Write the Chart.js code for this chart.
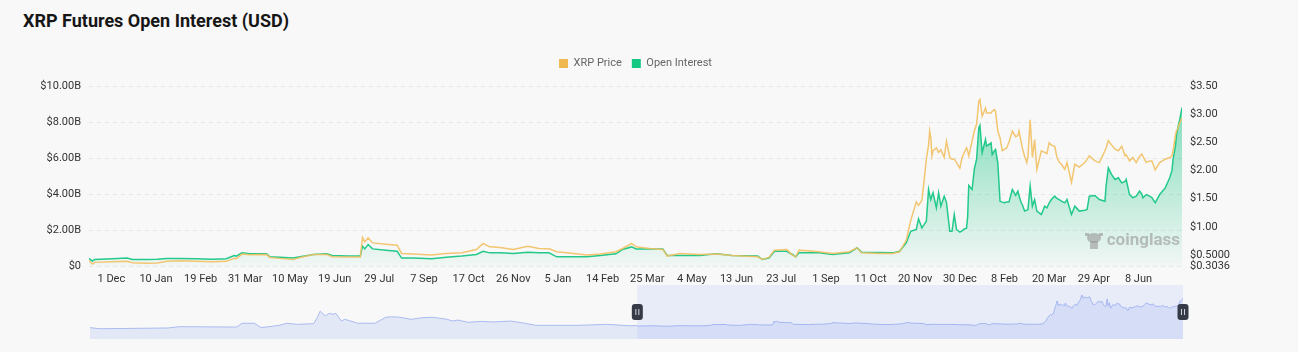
<!DOCTYPE html>
<html>
<head>
<meta charset="utf-8">
<script src="https://cdn.jsdelivr.net/npm/chart.js@4.4.1/dist/chart.umd.min.js"></script>
<style>
  html, body { margin: 0; padding: 0; background: #f8f8f8; }
  body { width: 1298px; height: 352px; position: relative; overflow: hidden; font-family: Roboto, "Noto Sans", sans-serif; }
  #title { position: absolute; left: 23px; top: 10px; font-size: 18px; font-weight: 700; color: #161616; line-height: 22px; }
  #main { position: absolute; left: 0; top: 0; width: 1298px; height: 290px; }
  #nav { position: absolute; left: 0; top: 283px; width: 1298px; height: 62px; }
</style>
</head>
<body>
<div id="title">XRP Futures Open Interest (USD)</div>
<div id="main"><canvas id="mainChart"></canvas></div>
<div id="nav"><canvas id="navChart"></canvas></div>
<script>
// daily samples
const dates = [
  '2022-11-11','2022-11-14','2022-11-16','2022-12-02','2022-12-15','2022-12-20','2023-01-02','2023-01-11','2023-01-20','2023-01-31',
  '2023-02-15','2023-03-02','2023-03-14','2023-03-21','2023-03-23','2023-03-28','2023-04-04','2023-04-19','2023-04-22','2023-05-01',
  '2023-05-13','2023-05-19','2023-05-31','2023-06-12','2023-06-17','2023-06-30','2023-07-12','2023-07-14','2023-07-16','2023-07-19',
  '2023-07-23','2023-08-04','2023-08-14','2023-08-18','2023-08-28','2023-09-14','2023-09-27','2023-10-11','2023-10-24','2023-10-30',
  '2023-11-05','2023-11-14','2023-11-26','2023-12-09','2023-12-19','2023-12-28','2024-01-04','2024-01-13','2024-01-31','2024-02-12',
  '2024-02-26','2024-03-03','2024-03-11','2024-03-15','2024-03-27','2024-04-08','2024-04-12','2024-04-23','2024-05-11','2024-05-26',
  '2024-06-09','2024-07-02','2024-07-06','2024-07-12','2024-07-17','2024-07-28','2024-08-02','2024-08-05','2024-08-08','2024-08-26',
  '2024-09-07','2024-09-22','2024-09-29','2024-10-03','2024-10-19','2024-10-31','2024-11-06','2024-11-12','2024-11-16','2024-11-21',
  '2024-11-23','2024-11-26','2024-11-28','2024-11-30','2024-12-02','2024-12-03','2024-12-04','2024-12-05','2024-12-06','2024-12-09',
  '2024-12-11','2024-12-13','2024-12-16','2024-12-18','2024-12-21','2024-12-23','2024-12-25','2024-12-27','2024-12-30','2025-01-01',
  '2025-01-03','2025-01-05','2025-01-06','2025-01-07','2025-01-10','2025-01-12','2025-01-14','2025-01-16','2025-01-17','2025-01-19',
  '2025-01-22','2025-01-23','2025-01-27','2025-01-28','2025-01-30','2025-01-31','2025-02-02','2025-02-04','2025-02-06','2025-02-08',
  '2025-02-10','2025-02-12','2025-02-15','2025-02-18','2025-02-20','2025-02-21','2025-02-23','2025-02-24','2025-02-26','2025-02-28',
  '2025-03-01','2025-03-03','2025-03-05','2025-03-07','2025-03-09','2025-03-13','2025-03-16','2025-03-18','2025-03-20','2025-03-22',
  '2025-03-25','2025-03-27','2025-03-29','2025-03-31','2025-04-03','2025-04-05','2025-04-09','2025-04-12','2025-04-16','2025-04-21',
  '2025-04-23','2025-04-25','2025-04-30','2025-05-04','2025-05-09','2025-05-10','2025-05-12','2025-05-15','2025-05-18','2025-05-21',
  '2025-05-24','2025-05-27','2025-05-28','2025-05-31','2025-06-03','2025-06-06','2025-06-09','2025-06-11','2025-06-12','2025-06-15',
  '2025-06-18','2025-06-20','2025-06-23','2025-06-27','2025-07-02','2025-07-06','2025-07-08','2025-07-09','2025-07-11','2025-07-12',
  '2025-07-13','2025-07-15','2025-07-17'
];

// open interest, $ billions
const oiValues = [
  0.42,0.27,0.36,0.40,0.44,0.36,0.36,0.38,0.42,0.42,
  0.40,0.38,0.40,0.58,0.55,0.73,0.68,0.68,0.51,0.49,
  0.44,0.51,0.64,0.68,0.58,0.55,0.55,1.10,0.95,1.19,
  0.95,0.88,0.82,0.44,0.44,0.40,0.49,0.55,0.64,0.82,
  0.73,0.73,0.69,0.77,0.73,0.73,0.51,0.51,0.51,0.58,
  0.68,0.92,1.06,0.95,0.95,0.95,0.58,0.58,0.58,0.68,
  0.58,0.55,0.36,0.44,0.82,0.82,0.64,0.51,0.73,0.73,
  0.64,0.73,1.01,0.77,0.75,0.73,0.82,1.29,1.93,2.03,
  2.62,2.12,2.30,2.49,4.25,3.95,3.69,3.90,4.07,3.23,
  4.07,3.32,3.88,3.55,1.93,1.93,2.86,2.03,1.88,1.95,
  2.06,2.10,2.73,4.47,4.25,5.40,5.92,7.68,7.81,6.29,
  7.03,6.66,6.84,6.19,6.40,6.47,5.73,3.60,3.55,3.51,
  3.55,3.55,4.25,3.92,4.16,3.90,3.51,3.40,3.05,3.10,
  3.14,4.44,3.32,3.69,3.05,2.86,3.32,3.23,3.50,3.69,
  3.88,3.75,3.69,3.60,3.51,3.69,2.86,3.32,3.05,3.10,
  3.14,3.88,3.92,3.69,3.60,4.44,5.45,5.08,4.81,4.90,
  4.62,4.70,4.81,3.97,3.79,3.88,4.16,4.00,3.79,3.97,
  3.88,3.80,3.51,3.97,4.34,4.90,5.30,5.92,6.60,7.21,
  7.60,8.14,8.80
];

// XRP price, USD
const priceValues = [
  0.397,0.339,0.368,0.380,0.386,0.362,0.351,0.356,0.386,0.397,
  0.386,0.380,0.386,0.439,0.433,0.515,0.503,0.509,0.456,0.439,
  0.421,0.456,0.509,0.509,0.468,0.462,0.462,0.808,0.732,0.802,
  0.714,0.691,0.673,0.527,0.515,0.497,0.527,0.538,0.597,0.703,
  0.644,0.632,0.597,0.656,0.615,0.609,0.556,0.538,0.497,0.515,
  0.556,0.615,0.703,0.644,0.615,0.597,0.480,0.527,0.509,0.515,
  0.491,0.468,0.421,0.456,0.585,0.597,0.497,0.468,0.585,0.556,
  0.527,0.556,0.626,0.538,0.527,0.527,0.556,0.76,1.11,1.44,
  1.38,1.47,1.82,2.20,2.45,2.70,2.58,2.26,2.35,2.40,
  2.32,2.37,2.23,2.52,2.23,2.20,2.20,2.14,2.04,2.23,
  2.32,2.40,2.35,2.26,2.52,2.70,2.82,3.23,3.26,2.96,
  3.11,3.02,3.02,3.05,3.08,3.05,2.70,2.58,2.35,2.38,
  2.40,2.50,2.70,2.60,2.62,2.70,2.50,2.40,2.25,2.14,
  2.25,2.90,2.23,2.55,2.02,2.35,2.32,2.30,2.49,2.45,
  2.43,2.23,2.15,2.11,2.02,2.14,1.79,2.11,2.06,2.14,
  2.20,2.26,2.17,2.14,2.35,2.40,2.53,2.45,2.38,2.35,
  2.43,2.26,2.28,2.17,2.23,2.14,2.25,2.29,2.25,2.14,
  2.17,2.17,2.01,2.14,2.20,2.23,2.26,2.35,2.61,2.70,
  2.73,2.85,2.93
];

const tickDates = [
  '2022-12-01','2023-01-10','2023-02-19','2023-03-31','2023-05-10','2023-06-19','2023-07-29','2023-09-07',
  '2023-10-17','2023-11-26','2024-01-05','2024-02-14','2024-03-25','2024-05-04','2024-06-13','2024-07-23',
  '2024-09-01','2024-10-11','2024-11-20','2024-12-30','2025-02-08','2025-03-20','2025-04-29','2025-06-08'
];
const tickLabels = [
  '1 Dec','10 Jan','19 Feb','31 Mar','10 May','19 Jun','29 Jul','7 Sep',
  '17 Oct','26 Nov','5 Jan','14 Feb','25 Mar','4 May','13 Jun','23 Jul',
  '1 Sep','11 Oct','20 Nov','30 Dec','8 Feb','20 Mar','29 Apr','8 Jun'
];
const oiTicks = [0, 2, 4, 6, 8, 10];
const priceTicks = [0.3036, 0.5, 1, 1.5, 2, 2.5, 3, 3.5];

// navigator: earlier price history before the selected window
const navDates = [
  '2020-03-04','2020-03-22','2020-07-22','2020-08-11','2020-11-22','2020-12-02','2020-12-24','2021-01-05','2021-02-07','2021-02-20',
  '2021-03-11','2021-04-09','2021-04-15','2021-04-21','2021-04-30','2021-05-07','2021-05-14','2021-05-19','2021-05-29','2021-06-04',
  '2021-06-13','2021-06-27','2021-07-28','2021-08-17','2021-08-27','2021-09-11','2021-10-01','2021-10-21','2021-11-09','2021-12-05',
  '2021-12-14','2021-12-24','2022-01-11','2022-02-06','2022-02-25','2022-03-29','2022-04-23','2022-05-13','2022-07-29','2022-09-18',
  '2022-10-27'
];
const navPrice = [
  0.21,0.11,0.18,0.30,0.27,0.62,0.62,0.21,0.43,0.62,
  0.52,0.58,1.08,1.76,1.30,1.55,1.46,1.55,0.83,0.99,
  0.86,0.62,0.62,1.18,1.23,1.18,0.99,1.14,1.18,0.99,
  0.83,0.92,0.71,0.80,0.74,0.83,0.62,0.43,0.43,0.52,
  0.39
];

const legendColors = ['#f0b94f', '#16c784'];
const day = s => Date.parse(s) / 86400000;
const font = 'Roboto, "Noto Sans", sans-serif';

Chart.defaults.font.family = font;
Chart.defaults.font.size = 11;
Chart.defaults.animation = false;

const legendGap = {
  id: 'legendGap',
  beforeInit(chart) {
    const fit = chart.legend.fit;
    chart.legend.fit = function () {
      fit.bind(chart.legend)();
      this.height = 38;
    };
  }
};

const watermark = {
  id: 'watermark',
  afterDatasetsDraw(chart) {
    const { ctx, chartArea } = chart;
    const x = chartArea.right - 2, y = chartArea.bottom - 25;
    ctx.save();
    ctx.fillStyle = 'rgba(150,150,150,0.6)';
    ctx.font = 'bold 17px ' + font;
    ctx.textAlign = 'right';
    ctx.textBaseline = 'middle';
    ctx.fillText('coinglass', x, y);
    // little mascot
    const ix = x - 86, iy = y;
    ctx.beginPath();
    ctx.ellipse(ix, iy - 3, 7, 5, 0, 0, Math.PI * 2);
    ctx.fill();
    ctx.fillRect(ix - 4, iy, 8, 8);
    ctx.fillRect(ix - 9, iy - 8, 4, 3);
    ctx.fillRect(ix + 5, iy - 8, 4, 3);
    ctx.restore();
  }
};

new Chart(document.getElementById('mainChart'), {
  type: 'line',
  data: {
    datasets: [{
      label: 'XRP Price',
      data: dates.map((d, i) => ({ x: day(d), y: priceValues[i] })),
      yAxisID: 'y1',
      borderColor: 'rgba(242,192,98,0.9)',
      backgroundColor: legendColors[0],
      borderWidth: 1.5,
      pointRadius: 0,
      fill: false,
      tension: 0
    }, {
      label: 'Open Interest',
      data: dates.map((d, i) => ({ x: day(d), y: oiValues[i] })),
      yAxisID: 'y',
      borderColor: '#22c98a',
      backgroundColor: (ctx) => {
        const a = ctx.chart.chartArea;
        if (!a) return 'rgba(28,199,135,0.2)';
        const g = ctx.chart.ctx.createLinearGradient(0, a.top, 0, a.bottom);
        g.addColorStop(0, 'rgba(28,199,135,0.6)');
        g.addColorStop(1, 'rgba(28,199,135,0.03)');
        return g;
      },
      borderWidth: 1.5,
      pointRadius: 0,
      fill: 'origin',
      tension: 0
    }]
  },
  options: {
    responsive: true,
    maintainAspectRatio: false,
    layout: { padding: { top: 48, left: 0, right: 0, bottom: 0 } },
    plugins: {
      legend: {
        position: 'top',
        fullSize: false,
        labels: {
          boxWidth: 9,
          boxHeight: 9,
          padding: 10,
          color: '#666',
          font: { size: 11 },
          generateLabels: (chart) => chart.data.datasets.map((ds, i) => ({
            text: ds.label,
            fillStyle: legendColors[i],
            strokeStyle: legendColors[i],
            lineWidth: 0,
            hidden: false,
            datasetIndex: i,
            fontColor: '#666'
          }))
        }
      },
      tooltip: { enabled: false }
    },
    scales: {
      x: {
        type: 'linear',
        min: day(dates[0]),
        max: day(dates[dates.length - 1]),
        afterBuildTicks: (s) => { s.ticks = tickDates.map(d => ({ value: day(d) })); },
        afterFit: (s) => { s.height = 24; },
        grid: { display: false, drawTicks: false },
        border: { display: false },
        ticks: {
          autoSkip: false,
          maxRotation: 0,
          padding: 7,
          color: '#333',
          callback: (v, i) => tickLabels[i]
        }
      },
      y: {
        position: 'left',
        min: 0,
        max: 10,
        afterBuildTicks: (s) => { s.ticks = oiTicks.map(v => ({ value: v })); },
        afterFit: (s) => { s.width = 89; },
        border: { display: false, dash: [4, 4] },
        grid: { color: '#e6e6e6', drawTicks: false },
        ticks: {
          padding: 8,
          color: '#333',
          callback: (v) => v === 0 ? '$0' : '$' + v.toFixed(2) + 'B'
        }
      },
      y1: {
        position: 'right',
        min: 0.3036,
        max: 3.5,
        afterBuildTicks: (s) => { s.ticks = priceTicks.map(v => ({ value: v })); },
        afterFit: (s) => { s.width = 116; },
        border: { display: false },
        grid: { display: false, drawTicks: false },
        ticks: {
          padding: 8,
          color: '#333',
          callback: (v) => '$' + (v < 1 ? v.toFixed(4) : v.toFixed(2))
        }
      }
    }
  },
  plugins: [legendGap, watermark]
});

const navSelect = {
  id: 'navSelect',
  afterDatasetsDraw(chart) {
    const { ctx, chartArea, scales } = chart;
    const x0 = scales.x.getPixelForValue(day(dates[0]));
    const x1 = scales.x.getPixelForValue(day(dates[dates.length - 1]));
    ctx.save();
    ctx.fillStyle = 'rgba(120,150,248,0.13)';
    ctx.fillRect(x0, chartArea.top, x1 - x0, chartArea.bottom - chartArea.top);
    const cy = (chartArea.top + chartArea.bottom) / 2;
    [x0, x1].forEach(hx => {
      ctx.fillStyle = '#363b47';
      ctx.beginPath();
      ctx.roundRect(hx - 5.5, cy - 8, 11, 16, 3);
      ctx.fill();
      ctx.strokeStyle = '#d0d4de';
      ctx.lineWidth = 1;
      ctx.beginPath();
      ctx.moveTo(hx - 1.5, cy - 3); ctx.lineTo(hx - 1.5, cy + 3);
      ctx.moveTo(hx + 1.5, cy - 3); ctx.lineTo(hx + 1.5, cy + 3);
      ctx.stroke();
    });
    ctx.restore();
  }
};

const navAll = navDates.concat(dates);
const navVals = navPrice.concat(priceValues);

new Chart(document.getElementById('navChart'), {
  type: 'line',
  data: {
    datasets: [{
      data: navAll.map((d, i) => ({ x: day(d), y: navVals[i] })),
      borderColor: '#a9bbf0',
      backgroundColor: 'rgba(120,150,235,0.165)',
      borderWidth: 1,
      pointRadius: 0,
      fill: 'start',
      tension: 0
    }]
  },
  options: {
    responsive: true,
    maintainAspectRatio: false,
    layout: { padding: { top: 2, bottom: 6, left: 90, right: 115 } },
    plugins: { legend: { display: false }, tooltip: { enabled: false } },
    scales: {
      x: { type: 'linear', display: false, min: day(navAll[0]), max: day(dates[dates.length - 1]) },
      y: { display: false, min: -0.85, max: 4.2 }
    }
  },
  plugins: [navSelect]
});
</script>
</body>
</html>
